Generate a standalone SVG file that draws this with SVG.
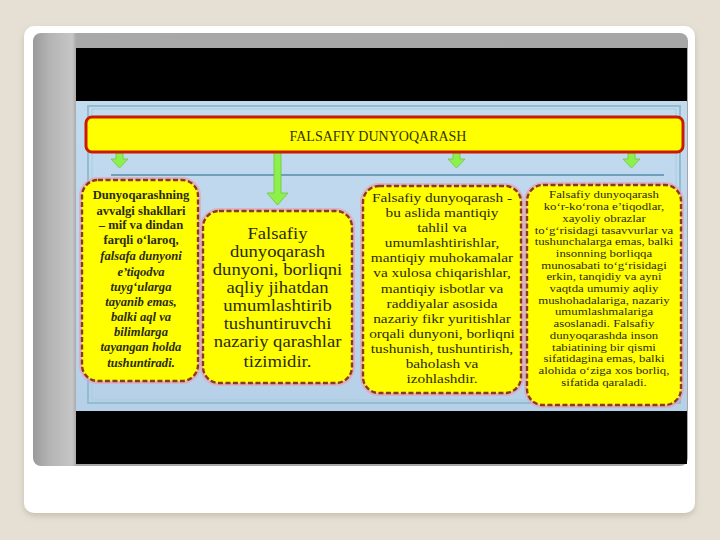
<svg xmlns="http://www.w3.org/2000/svg" width="720" height="540" viewBox="0 0 720 540">
<defs>
<linearGradient id="panelG" x1="0" y1="0" x2="1" y2="0">
<stop offset="0" stop-color="#9a9a9a"/>
<stop offset="0.025" stop-color="#b4b4b4"/>
<stop offset="0.06" stop-color="#c6c6c6"/>
<stop offset="0.066" stop-color="#a8a8a8"/>
<stop offset="1" stop-color="#a6a6a6"/>
</linearGradient>
<linearGradient id="slideG" x1="0" y1="0" x2="0" y2="1">
<stop offset="0" stop-color="#c2dbef"/>
<stop offset="1" stop-color="#b6d0e8"/>
</linearGradient>
<filter id="sh" x="-5%" y="-5%" width="110%" height="115%">
<feDropShadow dx="0" dy="3" stdDeviation="3" flood-color="#8a8070" flood-opacity="0.35"/>
</filter>
<style>
.box{fill:#ffff00;stroke:#8a3a1c;stroke-width:2.4;stroke-dasharray:5 2.5}
.halo{fill:none;stroke:#e9a3b0;stroke-width:6;opacity:0.7}
.arr{fill:#8ef04a;stroke:#6cc83a;stroke-width:0.8}
.t{font-family:"Liberation Serif","Times New Roman",serif;fill:#2b2a12;text-anchor:middle}
.b1{font-size:12px;font-weight:bold}
.b1i{font-style:italic}
.b2{font-size:16.5px}
.b3{font-size:13.2px}
.b4{font-size:10.5px}
.title{font-family:"Liberation Serif","Times New Roman",serif;font-size:14px;fill:#333300;text-anchor:middle}
</style>
</defs>
<rect x="0" y="0" width="720" height="540" fill="#e6e0d4"/>
<rect x="24" y="26" width="671" height="487" rx="10" fill="#ffffff" filter="url(#sh)"/>
<rect x="33" y="33" width="655" height="433" rx="8" fill="url(#panelG)"/>
<rect x="76" y="48" width="611" height="416" fill="#000000"/>
<rect x="76" y="101" width="611" height="310" fill="url(#slideG)"/>
<rect x="88" y="106" width="592" height="297" fill="none" stroke="#93bccf" stroke-width="2"/>
<rect x="92" y="109" width="584" height="291" fill="none" stroke="#a9cde0" stroke-width="1"/>

<g id="connectors">
<line x1="111" y1="175" x2="664" y2="175" stroke="#6f9fba" stroke-width="2"/>
<path class="arr" d="M116,153 h7 v6 h5 l-8.5,9 l-8.5,-9 h5 z"/>
<path class="arr" d="M453,153 h7 v6 h5 l-8.5,9 l-8.5,-9 h5 z"/>
<path class="arr" d="M628,153 h7 v6 h5 l-8.5,9 l-8.5,-9 h5 z"/>
<path class="arr" d="M274,152 h7 v41 h7 l-10.5,12 l-10.5,-12 h7 z"/>
</g>

<g id="title">
<rect x="86" y="117" width="597" height="35" rx="6" fill="#ffff00" stroke="#cc1a00" stroke-width="3"/>
<text class="title" x="378" y="141">FALSAFIY DUNYOQARASH</text>
</g>

<g id="box1">
<rect class="halo" x="82" y="180" width="116" height="201" rx="16"/>
<rect class="box" x="82" y="180" width="116" height="201" rx="16"/>
<g transform="translate(141 0) scale(1.05 1)">
<text class="t b1" x="0" y="199">Dunyoqarashning</text>
<text class="t b1" x="0" y="215">avvalgi shakllari</text>
<text class="t b1" x="0" y="229">– mif va dindan</text>
<text class="t b1" x="0" y="244">farqli o‘laroq,</text>
<text class="t b1 b1i" x="0" y="260">falsafa dunyoni</text>
<text class="t b1 b1i" x="0" y="276">e’tiqodva</text>
<text class="t b1 b1i" x="0" y="291">tuyg‘ularga</text>
<text class="t b1 b1i" x="0" y="306">tayanib emas,</text>
<text class="t b1 b1i" x="0" y="321">balki aql va</text>
<text class="t b1 b1i" x="0" y="336">bilimlarga</text>
<text class="t b1 b1i" x="0" y="351">tayangan holda</text>
<text class="t b1 b1i" x="0" y="367">tushuntiradi.</text>
</g>
</g>

<g id="box2">
<rect class="halo" x="203" y="211" width="149" height="172" rx="16"/>
<rect class="box" x="203" y="211" width="149" height="172" rx="16"/>
<g transform="translate(277.5 0) scale(1.13 1)">
<text class="t b2" x="0" y="239">Falsafiy</text>
<text class="t b2" x="0" y="257">dunyoqarash</text>
<text class="t b2" x="0" y="275">dunyoni, borliqni</text>
<text class="t b2" x="0" y="293">aqliy jihatdan</text>
<text class="t b2" x="0" y="311">umumlashtirib</text>
<text class="t b2" x="0" y="329">tushuntiruvchi</text>
<text class="t b2" x="0" y="347">nazariy qarashlar</text>
<text class="t b2" x="0" y="367">tizimidir.</text>
</g>
</g>

<g id="box3">
<rect class="halo" x="363" y="186" width="158" height="207" rx="16"/>
<rect class="box" x="363" y="186" width="158" height="207" rx="16"/>
<g transform="translate(442 0) scale(1.16 1)">
<text class="t b3" x="0" y="202">Falsafiy dunyoqarash -</text>
<text class="t b3" x="0" y="217.1">bu aslida mantiqiy</text>
<text class="t b3" x="0" y="232.2">tahlil va</text>
<text class="t b3" x="0" y="247.3">umumlashtirishlar,</text>
<text class="t b3" x="0" y="262.4">mantiqiy muhokamalar</text>
<text class="t b3" x="0" y="277.5">va xulosa chiqarishlar,</text>
<text class="t b3" x="0" y="292.6">mantiqiy isbotlar va</text>
<text class="t b3" x="0" y="307.7">raddiyalar asosida</text>
<text class="t b3" x="0" y="322.8">nazariy fikr yuritishlar</text>
<text class="t b3" x="0" y="337.9">orqali dunyoni, borliqni</text>
<text class="t b3" x="0" y="353">tushunish, tushuntirish,</text>
<text class="t b3" x="0" y="368.1">baholash va</text>
<text class="t b3" x="0" y="383.2">izohlashdir.</text>
</g>
</g>

<g id="box4">
<rect class="halo" x="527" y="185" width="154" height="220" rx="16"/>
<rect class="box" x="527" y="185" width="154" height="220" rx="16"/>
<g transform="translate(604 0) scale(1.22 1)">
<text class="t b4" x="0" y="198.5">Falsafiy dunyoqarash</text>
<text class="t b4" x="0" y="210">ko‘r-ko‘rona e’tiqodlar,</text>
<text class="t b4" x="0" y="222">xayoliy obrazlar</text>
<text class="t b4" x="0" y="234">to‘g‘risidagi tasavvurlar va</text>
<text class="t b4" x="0" y="245">tushunchalarga emas, balki</text>
<text class="t b4" x="0" y="257">insonning borliqqa</text>
<text class="t b4" x="0" y="269">munosabati to‘g‘risidagi</text>
<text class="t b4" x="0" y="280">erkin, tanqidiy va ayni</text>
<text class="t b4" x="0" y="292">vaqtda umumiy aqliy</text>
<text class="t b4" x="0" y="304">mushohadalariga, nazariy</text>
<text class="t b4" x="0" y="315">umumlashmalariga</text>
<text class="t b4" x="0" y="327">asoslanadi. Falsafiy</text>
<text class="t b4" x="0" y="339">dunyoqarashda inson</text>
<text class="t b4" x="0" y="351">tabiatining bir qismi</text>
<text class="t b4" x="0" y="362">sifatidagina emas, balki</text>
<text class="t b4" x="0" y="374">alohida o‘ziga xos borliq,</text>
<text class="t b4" x="0" y="386">sifatida qaraladi.</text>
</g>
</g>
</svg>
